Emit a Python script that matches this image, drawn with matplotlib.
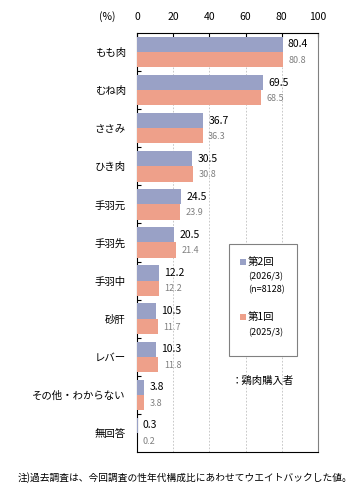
import matplotlib
matplotlib.use("Agg")
import matplotlib.pyplot as plt
import numpy as np
from matplotlib.patches import Rectangle
from matplotlib.transforms import blended_transform_factory

plt.rcParams['font.family'] = ['Noto Sans CJK JP', 'DejaVu Sans']
plt.rcParams['xtick.direction'] = 'in'
plt.rcParams['ytick.direction'] = 'in'

categories = ["もも肉", "むね肉", "ささみ", "ひき肉", "手羽元", "手羽先", "手羽中", "砂肝", "レバー", "その他・わからない", "無回答"]
round2 = [80.4, 69.5, 36.7, 30.5, 24.5, 20.5, 12.2, 10.5, 10.3, 3.8, 0.3]
round1 = [80.8, 68.5, 36.3, 30.8, 23.9, 21.4, 12.2, 11.7, 11.8, 3.8, 0.2]
xticks = [0, 20, 40, 60, 80, 100]

c2 = "#99A1C6"
c1 = "#EEA08A"

W, H = 362, 498
fig = plt.figure(figsize=(W/100, H/100), dpi=100)
ax_top, ax_bot = 33, 452
ax = fig.add_axes([137/W, 1-ax_bot/H, (318-137)/W, (ax_bot-ax_top)/H])

n = len(categories)
y = np.arange(n)
bh = 0.4
ax.barh(y - bh/2, round2, height=bh, color=c2, zorder=3)
ax.barh(y + bh/2, round1, height=bh, color=c1, zorder=3)

for i in range(n):
    ax.text(round2[i] + 3, y[i] - bh/2, f"{round2[i]:.1f}", va="center", ha="left",
            fontsize=7.5, color="black", zorder=4)
    ax.text(round1[i] + 3, y[i] + bh/2 + 0.02, f"{round1[i]:.1f}", va="center", ha="left",
            fontsize=6.5, color="#808080", zorder=4)

ax.set_xlim(0, 100)
ax.set_ylim(n - 0.5, -0.5)
ax.xaxis.tick_top()
ax.set_xticks(xticks)
ax.set_xticklabels([])
ax.tick_params(axis="x", length=3, width=0.8)
trans = blended_transform_factory(ax.transData, ax.transAxes)
label_y = (ax_bot - 17) / (ax_bot - ax_top)
for t in xticks:
    ax.text(t, label_y, str(t), transform=trans, ha="center", va="center",
            fontsize=7.5, clip_on=False)
ax.text(-12, label_y, "(%)", transform=trans, ha="right", va="center",
        fontsize=7.5, clip_on=False)

ax.set_yticks(y)
ax.set_yticklabels(categories, fontsize=7.5)
ax.tick_params(axis="y", length=0, pad=8)
ax.set_yticks(np.arange(n - 1) + 0.5, minor=True)
ax.tick_params(axis="y", which="minor", length=3, width=0.8)
for t in [20, 40, 60, 80]:
    ax.axvline(t, color="#BFBFBF", lw=0.6, ls=(0, (2, 2)), zorder=1)
for s in ax.spines.values():
    s.set_color("black")
    s.set_linewidth(0.8)
ax.spines["right"].set_color("#808080")

# legend box
lx0, ly0, lx1, ly1 = 229, 244, 297, 356
fig.patches.append(Rectangle((lx0/W, 1-ly1/H), (lx1-lx0)/W, (ly1-ly0)/H,
                             transform=fig.transFigure, fill=True, facecolor="white",
                             edgecolor="#808080", lw=0.8, zorder=5))
fig.patches.append(Rectangle((240/W, 1-265/H), 6/W, 6/H, transform=fig.transFigure,
                             facecolor=c2, edgecolor="none", zorder=6))
fig.text(248/W, 1-262/H, "第2回", fontsize=7.5, ha="left", va="center", zorder=7)
fig.text(248/W, 1-277/H, "(2026/3)", fontsize=6.5, ha="left", va="center", zorder=7)
fig.text(248/W, 1-290/H, "(n=8128)", fontsize=6.5, ha="left", va="center", zorder=7)
fig.patches.append(Rectangle((240/W, 1-320/H), 6/W, 6/H, transform=fig.transFigure,
                             facecolor=c1, edgecolor="none", zorder=6))
fig.text(248/W, 1-317/H, "第1回", fontsize=7.5, ha="left", va="center", zorder=7)
fig.text(248/W, 1-333/H, "(2025/3)", fontsize=6.5, ha="left", va="center", zorder=7)

fig.text(232/W, 1-381/H, "：鶏肉購入者", fontsize=7.5, ha="left", va="center")
fig.text(18/W, 1-478/H, "注)過去調査は、今回調査の性年代構成比にあわせてウエイトバックした値。",
         fontsize=7, ha="left", va="center")

fig.savefig("out.png", dpi=100)
